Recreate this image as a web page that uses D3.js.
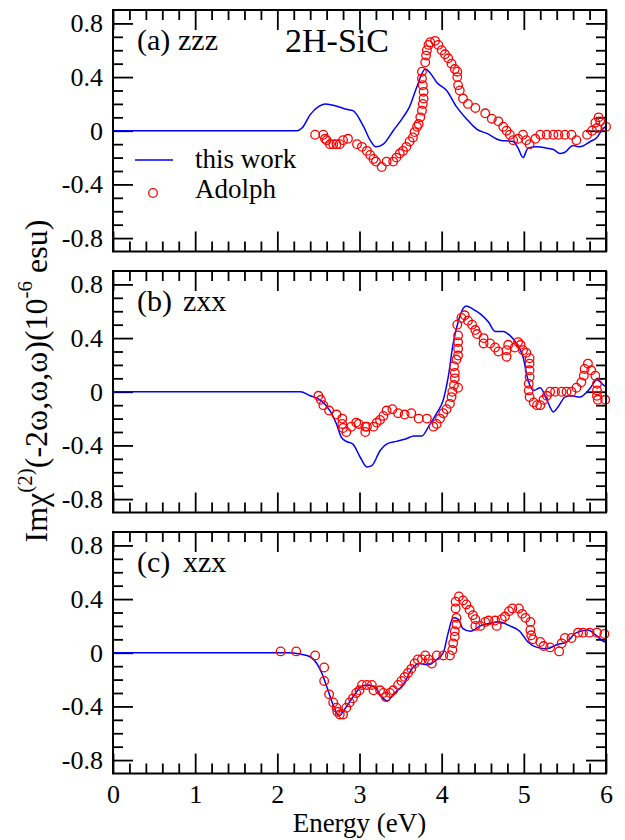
<!DOCTYPE html>
<html>
<head>
<meta charset="utf-8">
<script src="https://cdn.jsdelivr.net/npm/d3@7"></script>
<style>
  body { margin: 0; background: #fff; }
  text { font-family: "Liberation Serif", "Times New Roman", serif; fill: #000; }
</style>
</head>
<body>
<div class="canvas"></div>
<script>
// ---- data: [energy eV, Im chi2 (1e-6 esu)] ----
const xTicks = [0, 1, 2, 3, 4, 5, 6];
const yTicks = [-0.8, -0.4, 0, 0.4, 0.8];

// (a) zzz
const zzzCalc = [[0,0],[2.24,0],[2.3,0.02],[2.4,0.12],[2.5,0.18],[2.58,0.2],[2.68,0.19],[2.84,0.16],[2.92,0.15],
  [3.05,0.03],[3.13,-0.07],[3.2,-0.12],[3.29,-0.1],[3.41,0.0],[3.53,0.1],[3.61,0.18],[3.7,0.33],[3.8,0.46],
  [3.86,0.43],[3.94,0.36],[4.06,0.3],[4.18,0.18],[4.3,0.09],[4.43,0.01],[4.55,-0.02],[4.71,-0.07],[4.87,-0.08],
  [4.93,-0.13],[4.99,-0.2],[5.05,-0.13],[5.16,-0.12],[5.28,-0.13],[5.36,-0.14],[5.44,-0.17],[5.5,-0.16],
  [5.6,-0.11],[5.68,-0.12],[5.81,-0.08],[5.89,-0.05],[5.97,0.02],[6.0,0.03]];
const zzzExp = [[2.46,-0.03],[2.56,-0.03],[2.58,-0.06],[2.6,-0.07],[2.64,-0.1],[2.68,-0.1],[2.72,-0.1],[2.76,-0.1],
  [2.8,-0.07],[2.86,-0.06],[2.97,-0.1],[3.03,-0.12],[3.09,-0.15],[3.13,-0.18],[3.17,-0.21],[3.2,-0.23],[3.27,-0.27],
  [3.33,-0.23],[3.41,-0.23],[3.45,-0.2],[3.49,-0.17],[3.53,-0.15],[3.57,-0.12],[3.61,-0.08],[3.65,-0.05],[3.67,-0.01],
  [3.7,0.03],[3.72,0.05],[3.74,0.1],[3.76,0.15],[3.77,0.2],[3.78,0.24],[3.78,0.29],[3.77,0.34],[3.76,0.39],[3.76,0.44],
  [3.8,0.51],[3.81,0.56],[3.82,0.6],[3.84,0.64],[3.86,0.66],[3.92,0.67],[3.96,0.64],[4.0,0.6],[4.04,0.57],[4.08,0.54],
  [4.12,0.5],[4.16,0.46],[4.19,0.44],[4.19,0.4],[4.2,0.34],[4.22,0.3],[4.26,0.24],[4.32,0.2],[4.41,0.17],[4.53,0.13],
  [4.61,0.09],[4.69,0.07],[4.75,0.03],[4.79,0.0],[4.83,-0.03],[4.87,-0.07],[4.93,-0.06],[4.99,-0.03],[5.03,-0.07],
  [5.07,-0.1],[5.14,-0.06],[5.2,-0.03],[5.28,-0.03],[5.36,-0.03],[5.42,-0.03],[5.5,-0.03],[5.58,-0.03],[5.64,-0.07],
  [5.77,-0.03],[5.83,0.0],[5.87,0.06],[5.91,0.1],[5.93,0.07],[5.89,0.02],[6.0,0.03]];

// (b) zxx
const zxxCalc = [[0,0],[2.28,0],[2.4,-0.03],[2.52,-0.06],[2.64,-0.14],[2.72,-0.24],[2.78,-0.34],[2.84,-0.37],
  [2.92,-0.39],[3.01,-0.49],[3.09,-0.56],[3.15,-0.55],[3.25,-0.44],[3.33,-0.39],[3.45,-0.37],[3.57,-0.35],
  [3.66,-0.33],[3.76,-0.33],[3.84,-0.26],[3.94,-0.16],[4.02,-0.06],[4.08,0.11],[4.14,0.36],[4.2,0.52],[4.26,0.62],
  [4.3,0.64],[4.37,0.62],[4.47,0.58],[4.57,0.52],[4.65,0.45],[4.75,0.45],[4.83,0.42],[4.91,0.36],[4.99,0.26],
  [5.05,0.09],[5.12,0.01],[5.2,0.03],[5.28,-0.06],[5.36,-0.15],[5.42,-0.11],[5.5,-0.04],[5.58,-0.03],[5.68,-0.04],
  [5.8,0.02],[5.89,0.09],[5.97,0.05],[6.0,0.04]];
const zxxExp = [[2.5,-0.03],[2.53,-0.06],[2.56,-0.1],[2.63,-0.14],[2.72,-0.17],[2.79,-0.2],[2.79,-0.24],[2.8,-0.27],
  [2.84,-0.3],[2.9,-0.26],[2.96,-0.23],[2.99,-0.24],[3.07,-0.26],[3.07,-0.3],[3.09,-0.26],[3.17,-0.26],[3.21,-0.23],
  [3.25,-0.21],[3.29,-0.18],[3.33,-0.14],[3.4,-0.13],[3.47,-0.16],[3.55,-0.17],[3.63,-0.16],[3.72,-0.2],[3.82,-0.2],
  [3.9,-0.26],[3.94,-0.24],[3.98,-0.2],[4.02,-0.16],[4.06,-0.13],[4.1,-0.09],[4.12,-0.04],[4.13,0.0],[4.2,0.03],
  [4.15,0.05],[4.16,0.1],[4.16,0.14],[4.15,0.19],[4.18,0.24],[4.2,0.27],[4.2,0.32],[4.2,0.37],[4.2,0.42],[4.19,0.5],
  [4.24,0.55],[4.28,0.57],[4.32,0.53],[4.37,0.5],[4.41,0.46],[4.43,0.43],[4.51,0.4],[4.51,0.36],[4.59,0.36],
  [4.65,0.33],[4.69,0.3],[4.79,0.31],[4.79,0.26],[4.81,0.35],[4.89,0.33],[4.93,0.37],[4.96,0.35],[4.99,0.31],
  [5.03,0.29],[5.07,0.25],[5.07,0.21],[5.07,0.16],[5.07,0.11],[5.06,0.06],[5.06,0.01],[5.07,-0.04],[5.12,-0.08],
  [5.16,-0.1],[5.2,-0.1],[5.24,-0.06],[5.28,-0.03],[5.32,0.0],[5.38,0.0],[5.46,0.0],[5.52,0.0],[5.58,0.0],[5.64,0.03],
  [5.7,0.07],[5.73,0.12],[5.74,0.17],[5.78,0.21],[5.82,0.16],[5.87,0.12],[5.89,0.06],[5.89,0.01],[5.89,-0.03],
  [5.9,-0.06],[5.99,-0.06]];

// (c) xzx
const xzxCalc = [[0,0],[2.11,0],[2.28,-0.01],[2.4,-0.03],[2.48,-0.08],[2.54,-0.15],[2.6,-0.25],[2.68,-0.39],
  [2.75,-0.47],[2.82,-0.42],[2.92,-0.33],[3.03,-0.25],[3.11,-0.24],[3.19,-0.26],[3.27,-0.33],[3.34,-0.36],
  [3.41,-0.31],[3.53,-0.24],[3.65,-0.11],[3.73,-0.08],[3.84,-0.09],[3.94,-0.05],[4.02,0.0],[4.08,0.15],[4.14,0.26],
  [4.2,0.25],[4.26,0.18],[4.35,0.16],[4.47,0.2],[4.59,0.22],[4.71,0.23],[4.83,0.2],[4.95,0.16],[5.05,0.08],
  [5.16,0.04],[5.28,0.03],[5.4,0.06],[5.52,0.08],[5.64,0.15],[5.78,0.17],[5.88,0.13],[5.99,0.08],[6.0,0.08]];
const xzxExp = [[2.04,0.01],[2.23,0.01],[2.46,-0.02],[2.57,-0.11],[2.57,-0.21],[2.63,-0.31],[2.68,-0.37],[2.72,-0.41],
  [2.73,-0.44],[2.76,-0.46],[2.8,-0.46],[2.84,-0.41],[2.88,-0.37],[2.92,-0.34],[2.96,-0.3],[3.0,-0.28],[3.03,-0.24],
  [3.09,-0.24],[3.15,-0.24],[3.17,-0.28],[3.25,-0.28],[3.29,-0.3],[3.32,-0.33],[3.37,-0.3],[3.41,-0.28],[3.47,-0.24],
  [3.51,-0.21],[3.55,-0.18],[3.59,-0.15],[3.63,-0.12],[3.67,-0.08],[3.71,-0.05],[3.76,-0.05],[3.8,-0.02],[3.84,-0.05],
  [3.88,-0.08],[3.94,-0.02],[4.02,-0.02],[4.1,-0.02],[4.13,0.02],[4.14,0.07],[4.16,0.12],[4.16,0.16],[4.18,0.21],
  [4.18,0.26],[4.17,0.33],[4.17,0.38],[4.21,0.42],[4.26,0.39],[4.3,0.36],[4.34,0.32],[4.38,0.28],[4.41,0.25],
  [4.41,0.2],[4.47,0.2],[4.53,0.23],[4.57,0.24],[4.65,0.24],[4.67,0.2],[4.73,0.25],[4.77,0.27],[4.82,0.31],
  [4.86,0.33],[4.94,0.33],[4.98,0.29],[5.02,0.26],[5.08,0.23],[5.08,0.17],[5.09,0.13],[5.11,0.1],[5.2,0.08],
  [5.24,0.05],[5.32,0.04],[5.43,0.01],[5.46,0.07],[5.5,0.11],[5.58,0.11],[5.66,0.15],[5.72,0.15],[5.8,0.15],
  [5.89,0.15],[5.98,0.14]];

// ---- layout ----
const width = 625, height = 840;
const left = 113, right = 606;
const panelH = 241.5;
const serif = '"Liberation Serif", "Times New Roman", serif';
const panels = [
  { top: 10,  tag: '(a)', comp: 'zzz', compX: 178, calc: zzzCalc, exp: zzzExp },
  { top: 271, tag: '(b)', comp: 'zxx', compX: 183, calc: zxxCalc, exp: zxxExp },
  { top: 532, tag: '(c)', comp: 'xzx', compX: 183, calc: xzxCalc, exp: xzxExp }
];

const svg = d3.select('.canvas')
  .append('svg')
  .attr('width', width)
  .attr('height', height);

const x = d3.scaleLinear().domain([0, 6]).range([left, right]);

const xMinor = d3.range(0, 31).map(i => i / 5).filter(v => !xTicks.includes(v));
const yMinor = d3.range(-8, 9).map(i => i / 10).filter(v => !yTicks.includes(v));
const fmtY = d => d === 0 ? '0' : d.toFixed(1);

panels.forEach((p, i) => {
  const bottom = p.top + panelH;
  const y = d3.scaleLinear().domain([-0.9, 0.9]).range([bottom, p.top]);
  const g = svg.append('g');

  // ticks on all four sides, pointing inwards
  const axes = [
    [d3.axisLeft(y).tickValues(yTicks).tickSize(-20).tickPadding(10).tickFormat(fmtY), `translate(${left},0)`],
    [d3.axisLeft(y).tickValues(yMinor).tickSize(-10).tickFormat(''), `translate(${left},0)`],
    [d3.axisRight(y).tickValues(yTicks).tickSize(-20).tickFormat(''), `translate(${right},0)`],
    [d3.axisRight(y).tickValues(yMinor).tickSize(-10).tickFormat(''), `translate(${right},0)`],
    [d3.axisTop(x).tickValues(xTicks).tickSize(-20).tickFormat(''), `translate(0,${p.top})`],
    [d3.axisTop(x).tickValues(xMinor).tickSize(-10).tickFormat(''), `translate(0,${p.top})`],
    [d3.axisBottom(x).tickValues(xTicks).tickSize(-20).tickPadding(11)
      .tickFormat(i === 2 ? d3.format('d') : ''), `translate(0,${bottom})`],
    [d3.axisBottom(x).tickValues(xMinor).tickSize(-10).tickFormat(''), `translate(0,${bottom})`]
  ];
  axes.forEach(([ax, tr]) => {
    const a = g.append('g').attr('transform', tr).call(ax.tickSizeOuter(0))
      .attr('font-family', serif).attr('font-size', 26);
    a.select('.domain').remove();
    a.selectAll('line').attr('stroke', '#000').attr('stroke-width', 1.8);
    a.selectAll('text').attr('fill', '#000');
  });

  // calculated spectrum
  const line = d3.line()
    .x(d => x(d[0]))
    .y(d => y(d[1]))
    .curve(d3.curveMonotoneX);

  g.append('path')
    .datum(p.calc)
    .attr('fill', 'none')
    .attr('stroke', '#0000ff')
    .attr('stroke-width', 1.5)
    .attr('d', line);

  // Adolph points
  g.selectAll('circle')
    .data(p.exp)
    .enter()
    .append('circle')
      .attr('cx', d => x(d[0]))
      .attr('cy', d => y(d[1]))
      .attr('r', 4.3)
      .attr('fill', 'none')
      .attr('stroke', '#ff0000')
      .attr('stroke-width', 1.3);

  // frame
  g.append('rect')
    .attr('x', left).attr('y', p.top)
    .attr('width', right - left).attr('height', panelH)
    .attr('fill', 'none').attr('stroke', '#000').attr('stroke-width', 2);

  // panel tag
  g.append('text').attr('x', 137).attr('y', p.top + 40).attr('font-size', 30).text(p.tag);
  g.append('text').attr('x', p.compX).attr('y', p.top + 40).attr('font-size', 30).text(p.comp);
});

// title and legend in panel (a)
svg.append('text').attr('x', 285).attr('y', 52).attr('font-size', 34).text('2H-SiC');

svg.append('line')
  .attr('x1', 135).attr('x2', 173).attr('y1', 160).attr('y2', 160)
  .attr('stroke', '#0000ff').attr('stroke-width', 1.5);
svg.append('text').attr('x', 195).attr('y', 168).attr('font-size', 27).text('this work');
svg.append('circle')
  .attr('cx', 153).attr('cy', 193).attr('r', 4.3)
  .attr('fill', 'none').attr('stroke', '#ff0000').attr('stroke-width', 1.3);
svg.append('text').attr('x', 195).attr('y', 198).attr('font-size', 27).text('Adolph');

// axis titles
svg.append('text')
  .attr('x', (left + right) / 2).attr('y', 832)
  .attr('text-anchor', 'middle').attr('font-size', 27)
  .text('Energy (eV)');

const yt = svg.append('text')
  .attr('transform', 'translate(47,381) rotate(-90)')
  .attr('text-anchor', 'middle')
  .attr('font-size', 32);
yt.append('tspan').text('Imχ');
yt.append('tspan').attr('dy', -15).attr('font-size', 21).text('(2)');
yt.append('tspan').attr('dy', 15).text('(-2ω,ω,ω)(10');
yt.append('tspan').attr('dy', -15).attr('font-size', 21).text('-6');
yt.append('tspan').attr('dy', 15).text(' esu)');
</script>
</body>
</html>
